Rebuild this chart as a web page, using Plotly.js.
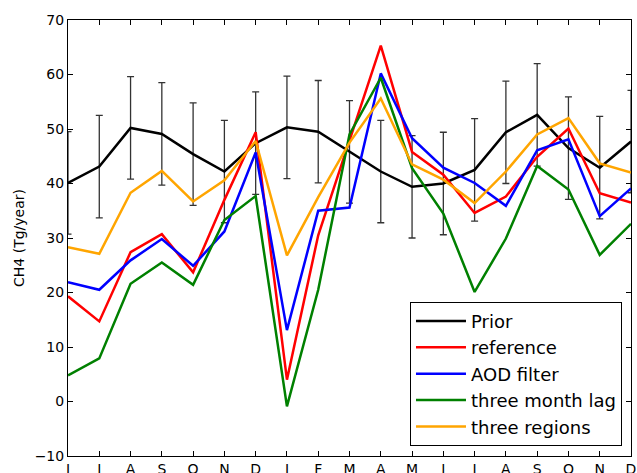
<!DOCTYPE html>
<html>
<head>
<meta charset="utf-8">
<script src="https://cdn.plot.ly/plotly-3.0.1.min.js"></script>
<style>html,body{margin:0;padding:0;background:#fff;}#chart{width:637px;height:473px;}</style>
</head>
<body>
<div id="chart"></div>
<script>
const months = ['J','J','A','S','O','N','D','J','F','M','A','M','J','J','A','S','O','N','D'];
const prior = [40.1, 43.1, 50.2, 49.1, 45.4, 42.2, 47.4, 50.3, 49.5, 45.8, 42.2, 39.4, 40.0, 42.5, 49.4, 52.6, 46.5, 42.9, 47.7];
const priorErr = [9.4, 9.4, 9.4, 9.4, 9.4, 9.4, 9.4, 9.4, 9.4, 9.4, 9.4, 9.4, 9.4, 9.4, 9.4, 9.4, 9.4, 9.4, 9.4];
const reference = [19.3, 14.7, 27.4, 30.7, 23.7, 37.0, 49.4, 4.0, 30.5, 48.0, 65.3, 45.8, 41.6, 34.6, 37.6, 44.9, 50.1, 38.2, 36.5];
const aodFilter = [21.9, 20.5, 25.9, 29.8, 24.9, 31.2, 45.7, 13.1, 35.0, 35.6, 60.2, 48.3, 42.9, 40.1, 35.9, 46.1, 48.1, 34.0, 39.1];
const threeMonthLag = [4.8, 7.9, 21.6, 25.5, 21.4, 33.3, 37.7, -0.9, 20.5, 49.0, 59.4, 42.8, 34.5, 20.1, 29.9, 43.2, 38.9, 26.9, 32.6];
const threeRegions = [28.3, 27.1, 38.3, 42.3, 36.7, 40.6, 47.8, 26.8, 37.5, 47.5, 55.6, 43.5, 40.7, 36.4, 42.2, 49.0, 52.0, 43.7, 42.0];

const xIdx = months.map((m, i) => i);
const font = 'DejaVu Sans, sans-serif';

function line(name, y, color, extra) {
  return Object.assign({
    type: 'scatter', mode: 'lines', name: name, x: xIdx, y: y,
    line: {color: color, width: 2.5}, legendgroup: name
  }, extra || {});
}

const traces = [
  line('Prior', prior, '#000000', {
    error_y: {type: 'data', array: priorErr, visible: true, color: '#333333', thickness: 1.3, width: 3.5}
  }),
  line('reference', reference, '#ff0000'),
  line('AOD filter', aodFilter, '#0000ff'),
  line('three month lag', threeMonthLag, '#008000'),
  line('three regions', threeRegions, '#ffa500')
];

const layout = {
  width: 637, height: 473,
  margin: {l: 68, r: 6, t: 20, b: 17},
  paper_bgcolor: '#ffffff', plot_bgcolor: '#ffffff',
  font: {family: font, size: 14, color: '#000000'},
  showlegend: true,
  legend: {
    x: 0.984, y: 0.0236, xanchor: 'right', yanchor: 'bottom',
    bgcolor: '#ffffff', bordercolor: '#000000', borderwidth: 1,
    font: {family: font, size: 18, color: '#000000'},
    traceorder: 'grouped', tracegroupgap: 0, itemwidth: 50
  },
  xaxis: {
    range: [0, 18], tickmode: 'array', tickvals: xIdx, ticktext: months,
    showgrid: false, zeroline: false, showline: true, linecolor: '#000000', linewidth: 1,
    mirror: 'ticks', ticks: 'inside', ticklen: 5, tickcolor: '#000000', automargin: false,
    tickfont: {family: font, size: 14, color: '#000000'}
  },
  yaxis: {
    range: [-10, 70], dtick: 10, tick0: 0,
    showgrid: false, zeroline: false, showline: true, linecolor: '#000000', linewidth: 1,
    mirror: 'ticks', ticks: 'inside', ticklen: 5, tickcolor: '#000000', automargin: false,
    tickfont: {family: font, size: 14, color: '#000000'},
    title: {text: 'CH4 (Tg/year)', font: {family: font, size: 14, color: '#000000'}, standoff: 6}
  }
};

Plotly.newPlot('chart', traces, layout, {displayModeBar: false, staticPlot: true});
</script>
</body>
</html>
